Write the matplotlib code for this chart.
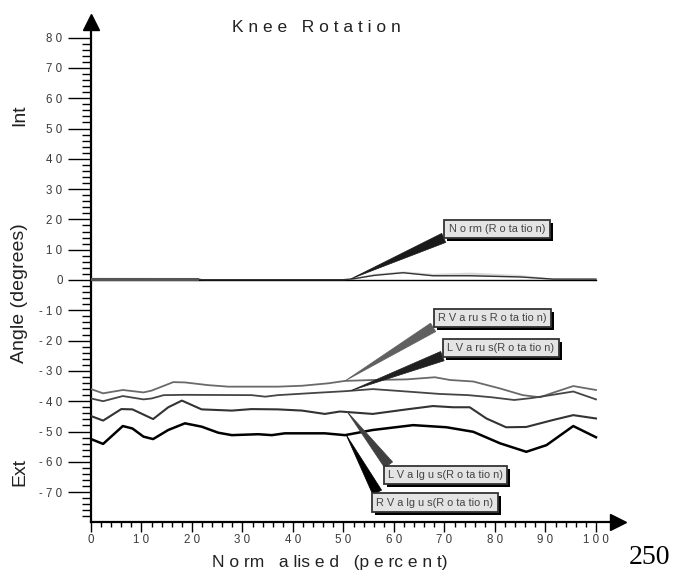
import matplotlib
matplotlib.use("Agg")
import matplotlib.pyplot as plt
import matplotlib.patheffects as pe

plt.rcParams['font.family'] = ['Liberation Sans', 'DejaVu Sans']

# ---------------- data ----------------
rvarus_x = [0, 2.4, 6.3, 10.4, 12, 16.3, 18.6, 23.2, 27.2, 37, 41.8, 47, 50.3, 55.8, 62.5, 68.1, 71.1, 75.7, 81, 85.5, 88.9, 91.5, 95.5, 100]
rvarus_y = [-36.0, -37.4, -36.3, -37.1, -36.5, -33.7, -33.8, -34.7, -35.2, -35.2, -34.9, -34.1, -33.3, -33.0, -32.8, -32.1, -33.0, -33.5, -35.8, -38.0, -38.7, -37.2, -35.0, -36.3]

lvarus_x = [0, 2.4, 6.3, 10.4, 12, 14.4, 18.6, 31.8, 34.5, 37, 45, 50.3, 55.8, 62.5, 69, 74.7, 79.3, 83.8, 87.1, 91, 95.5, 100]
lvarus_y = [-39.1, -40.0, -38.3, -39.4, -39.1, -38.0, -37.9, -38.0, -38.5, -38.0, -37.2, -36.7, -36.0, -36.8, -37.6, -38.0, -38.7, -39.6, -39.0, -38.0, -36.8, -39.4]

lvalgus_x = [0, 2.4, 6, 8.2, 12.3, 15.3, 18, 21.9, 27.9, 31.8, 37, 41.8, 46.3, 49.3, 55.8, 62.5, 67.7, 71.7, 75, 78.3, 82.2, 86.2, 91.5, 95.5, 100]
lvalgus_y = [-44.9, -46.4, -42.6, -42.7, -45.9, -42.0, -39.8, -42.7, -43.1, -42.6, -42.7, -43.1, -44.2, -43.4, -44.2, -42.7, -41.6, -42.0, -42.0, -45.7, -48.6, -48.5, -46.2, -44.6, -45.7]

rvalgus_x = [0, 2.4, 6.3, 8.2, 10.4, 12.3, 15.3, 18.6, 21.9, 25.2, 27.9, 33.1, 35.8, 38.4, 46.3, 50.3, 55.8, 63.8, 70.4, 75.7, 81, 86.2, 90.2, 95.5, 100]
rvalgus_y = [-52.5, -54.1, -48.2, -49.0, -51.7, -52.5, -49.5, -47.3, -48.4, -50.4, -51.2, -50.9, -51.2, -50.6, -50.6, -51.2, -49.5, -47.9, -48.6, -50.1, -53.9, -56.7, -54.5, -48.2, -51.9]

norm_x = [0, 21, 22, 50, 52, 56, 61.8, 67.7, 75, 85, 91.5, 100]
norm_y = [0.3, 0.3, 0.1, 0.1, 0.4, 1.5, 2.4, 1.4, 1.4, 1.0, 0.3, 0.3]
norm_upper = [0.9, 0.8, 0.3, 0.3, 0.8, 2.2, 3.0, 2.2, 2.6, 1.8, 0.6, 0.5]

series_labels = ["N o rm (R o ta tio n)", "R V a ru s R o ta tio n)", "L V a ru s(R o ta tio n)",
                 "L V a lg u s(R o ta tio n)", "R V a lg u s(R o ta tio n)"]

x_ticks = [0, 10, 20, 30, 40, 50, 60, 70, 80, 90, 100]
x_tick_labels = ["0", "1 0", "2 0", "3 0", "4 0", "5 0", "6 0", "7 0", "8 0", "9 0", "1 0 0"]
y_ticks = [-70, -60, -50, -40, -30, -20, -10, 0, 10, 20, 30, 40, 50, 60, 70, 80]
y_tick_labels = ["- 7 0", "- 6 0", "- 5 0", "- 4 0", "- 3 0", "- 2 0", "- 1 0", "0",
                 "1 0", "2 0", "3 0", "4 0", "5 0", "6 0", "7 0", "8 0"]

# ---------------- figure ----------------
W, H = 679, 574
fig = plt.figure(figsize=(W / 100, H / 100), dpi=100)
left, right, top, bottom = 91, 618.2, 22.45, 522.4
ax = fig.add_axes([left / W, 1 - bottom / H, (right - left) / W, (bottom - top) / H])
ax.set_xlim(0, 104.4)
ax.set_ylim(-80, 85)

for s in ['top', 'right']:
    ax.spines[s].set_visible(False)
for s in ['left', 'bottom']:
    ax.spines[s].set_linewidth(1.6)
    ax.spines[s].set_color('black')

# arrow heads
ax.plot([0], [1], marker='^', ms=12, color='k', transform=ax.transAxes, clip_on=False)
ax.plot([1], [0], marker='>', ms=12, color='k', transform=ax.transAxes, clip_on=False)

ax.set_xticks(x_ticks)
ax.set_xticklabels(x_tick_labels)
ax.set_xticks(list(range(0, 101, 2)), minor=True)
ax.set_yticks(y_ticks)
ax.set_yticklabels(y_tick_labels)
ax.set_yticks(list(range(-78, 80, 2)), minor=True)

ax.tick_params(axis='y', which='major', length=16.5, width=1, direction='out', pad=4,
               labelsize=8.3, labelcolor='#3a3a3a')
ax.tick_params(axis='y', which='minor', length=6.5, width=1, direction='out')
ax.tick_params(axis='x', which='major', length=7.5, width=1, direction='out', pad=1,
               labelsize=8.3, labelcolor='#3a3a3a')
ax.tick_params(axis='x', which='minor', length=3.8, width=1, direction='out')

# zero line & norm
ax.plot([0, 100], [0, 0], color='black', lw=1.0, zorder=2)
ax.fill_between(norm_x, norm_y, norm_upper, color='#d8d8d8', lw=0, zorder=1)
ax.plot(norm_x, norm_y, color='#333333', lw=1.0, zorder=3)
ax.plot(norm_x[:2], norm_y[:2], color='#555555', lw=2.2, zorder=3)

# curves
ax.plot(rvarus_x, rvarus_y, color='#6a6a6a', lw=1.3, zorder=3)
ax.plot(lvarus_x, lvarus_y, color='#454545', lw=1.3, zorder=3)
ax.plot(lvalgus_x, lvalgus_y, color='#333333', lw=1.5, zorder=3)
ax.plot(rvalgus_x, rvalgus_y, color='#000000', lw=1.8, zorder=3)

# annotations: (label, target xy, box centre in fig pixels from top-left, wedge colour, relpos)
ann = [
    (series_labels[0], (51.5, 0.4), (497, 229), '#1a1a1a', (0.04, 0.0)),
    (series_labels[1], (50.3, -33.3), (492.5, 318), '#606060', (0.02, 0.0)),
    (series_labels[2], (51.5, -36.5), (501, 348), '#202020', (0.03, 0.0)),
    (series_labels[3], (50.7, -43.4), (445.5, 475), '#404040', (0.04, 1.0)),
    (series_labels[4], (50.5, -51.0), (435, 502.5), '#000000', (0.03, 1.0)),
]
for text, xy, (cx, cy), col, rp in ann:
    t = ax.annotate(text, xy=xy, xycoords='data', xytext=(cx, H - cy), textcoords='figure pixels',
                    ha='center', va='center', fontsize=7.9, color='#444444', zorder=6,
                    bbox=dict(boxstyle='square,pad=0.4', fc='#e4e4e4', ec='#333333', lw=1.3),
                    arrowprops=dict(arrowstyle='wedge,tail_width=0.9,shrink_factor=0.5', fc=col, ec=col,
                                    lw=0.5, relpos=rp, shrinkA=0, shrinkB=0),
                    annotation_clip=False)
    t.get_bbox_patch().set_path_effects([
        pe.SimplePatchShadow(offset=(2.2, -2.2), shadow_rgbFace='black', alpha=1.0), pe.Normal()])

# texts
fig.text(316 / W, 1 - 27 / H, "K n e e   R o t a t i o n", ha='center', va='center',
         fontsize=12.5, color='#222222')
fig.text(330 / W, 1 - 563 / H, "N o rm   a lis e d   (p e rc e n t)", ha='center', va='center',
         fontsize=12.5, color='#222222')
fig.text(20 / W, 1 - 115 / H, "Int", rotation=90, ha='center', va='center', fontsize=14, color='#222222')
fig.text(20 / W, 1 - 293 / H, "Angle (degrees)", rotation=90, ha='center', va='center',
         fontsize=14, color='#222222')
fig.text(20 / W, 1 - 472 / H, "Ext", rotation=90, ha='center', va='center', fontsize=14, color='#222222')
fig.text(650 / W, 1 - 558 / H, "250", ha='center', va='center', fontsize=20,
         family=['Liberation Serif', 'DejaVu Serif'], color='black')

fig.savefig("out.png", dpi=100)
